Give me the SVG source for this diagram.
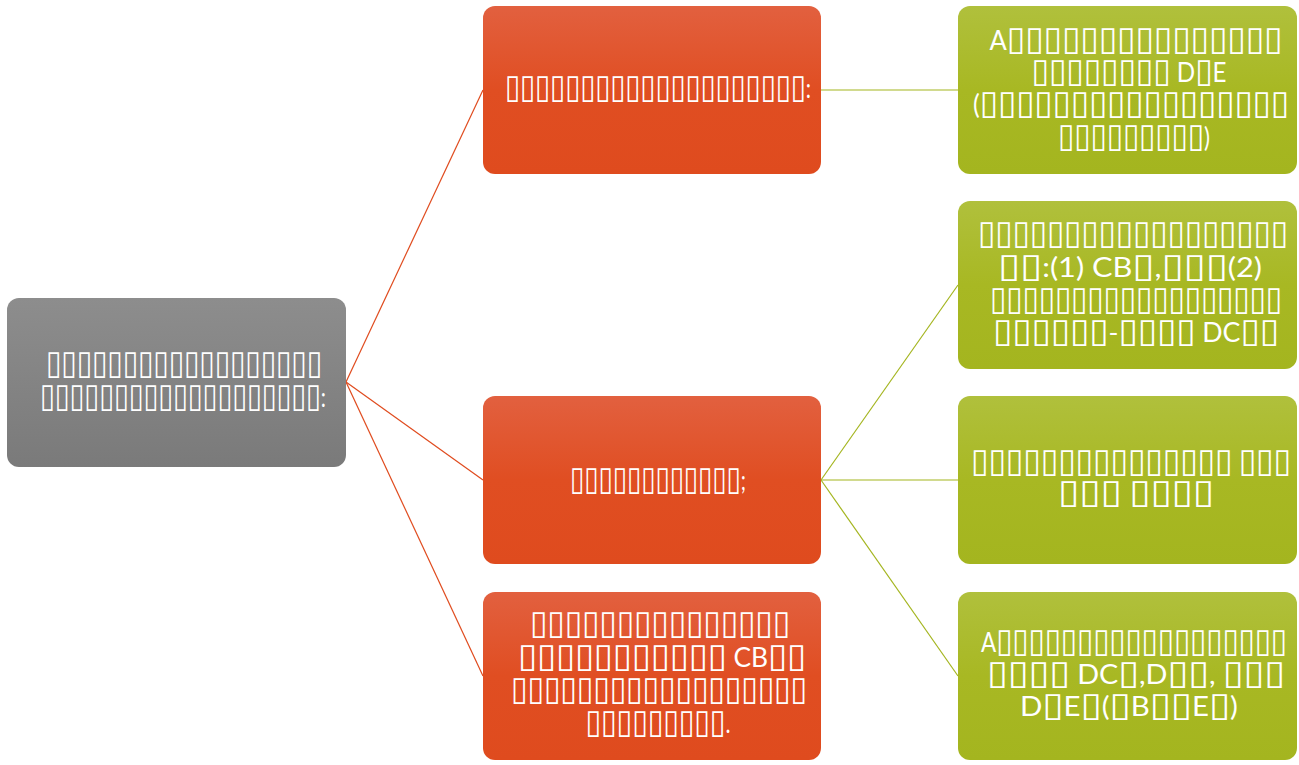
<svg xmlns="http://www.w3.org/2000/svg" width="1299" height="765" viewBox="0 0 1299 765">
<defs>
<linearGradient id="gGray" x1="0" y1="0" x2="0" y2="1"><stop offset="0" stop-color="#8d8d8d"/><stop offset="1" stop-color="#7a7a7a"/></linearGradient>
<linearGradient id="gOr" x1="0" y1="0" x2="0" y2="1"><stop offset="0" stop-color="#e2603f"/><stop offset="0.5" stop-color="#e04e22"/><stop offset="1" stop-color="#df4b1e"/></linearGradient>
<linearGradient id="gGr" x1="0" y1="0" x2="0" y2="1"><stop offset="0" stop-color="#b0c03c"/><stop offset="0.5" stop-color="#a8b823"/><stop offset="1" stop-color="#a4b51f"/></linearGradient>
<style>
.t{font-family:"Lato","DejaVu Sans",sans-serif;font-size:26px;fill:#ffffff;text-anchor:middle}
.b{font-family:"DejaVu Sans",sans-serif;font-size:34px}
.lo{stroke:#e04b1e;stroke-width:1.2;fill:none}
.lg{stroke:#a4b51f;stroke-width:1.2;fill:none}
</style>
</defs>
<rect width="1299" height="765" fill="#ffffff"/>
<g id="connectors">
<line class="lo" x1="346" y1="382" x2="483" y2="90"/>
<line class="lo" x1="346" y1="382" x2="483" y2="480"/>
<line class="lo" x1="346" y1="382" x2="483" y2="676"/>
<line class="lg" x1="821" y1="90" x2="958" y2="90"/>
<line class="lg" x1="821" y1="480" x2="958" y2="285"/>
<line class="lg" x1="821" y1="480" x2="958" y2="480"/>
<line class="lg" x1="821" y1="480" x2="958" y2="676"/>
</g>
<g id="root">
<rect x="7" y="298" width="339" height="169" rx="12" fill="url(#gGray)"/>
<text class="t" x="184" y="374" textLength="276" lengthAdjust="spacingAndGlyphs"><tspan class="b">▯▯▯▯▯▯▯▯▯▯▯▯▯▯▯▯▯▯</tspan></text>
<text class="t" x="183" y="407" textLength="286" lengthAdjust="spacingAndGlyphs"><tspan class="b">▯▯▯▯▯▯▯▯▯▯▯▯▯▯▯▯▯▯▯</tspan>:</text>
</g>
<g id="o1">
<rect x="483" y="6" width="338" height="168" rx="12" fill="url(#gOr)"/>
<text class="t" x="658" y="98" textLength="306" lengthAdjust="spacingAndGlyphs"><tspan class="b">▯▯▯▯▯▯▯▯▯▯▯▯▯▯▯▯▯▯▯▯</tspan>:</text>
</g>
<g id="o2">
<rect x="483" y="396" width="338" height="168" rx="12" fill="url(#gOr)"/>
<text class="t" x="658" y="490" textLength="176" lengthAdjust="spacingAndGlyphs"><tspan class="b">▯▯▯▯▯▯▯▯▯▯▯▯</tspan>;</text>
</g>
<g id="o3">
<rect x="483" y="592" width="338" height="168" rx="12" fill="url(#gOr)"/>
<text class="t" x="660" y="634" textLength="260" lengthAdjust="spacingAndGlyphs"><tspan class="b">▯▯▯▯▯▯▯▯▯▯▯▯▯▯▯</tspan></text>
<text class="t" x="662" y="667" textLength="288" lengthAdjust="spacingAndGlyphs"><tspan class="b">▯▯▯▯▯▯▯▯▯▯▯</tspan> CB<tspan class="b">▯▯</tspan></text>
<text class="t" x="659" y="700" textLength="296" lengthAdjust="spacingAndGlyphs"><tspan class="b">▯▯▯▯▯▯▯▯▯▯▯▯▯▯▯▯▯▯</tspan></text>
<text class="t" x="658" y="733" textLength="145" lengthAdjust="spacingAndGlyphs"><tspan class="b">▯▯▯▯▯▯▯▯▯</tspan>.</text>
</g>
<g id="g1">
<rect x="958" y="6" width="339" height="168" rx="12" fill="url(#gGr)"/>
<text class="t" x="1136" y="50" textLength="293" lengthAdjust="spacingAndGlyphs">A<tspan class="b">▯▯▯▯▯▯▯▯▯▯▯▯▯▯▯</tspan></text>
<text class="t" x="1129" y="82" textLength="195" lengthAdjust="spacingAndGlyphs"><tspan class="b">▯▯▯▯▯▯▯▯</tspan> D<tspan class="b">▯</tspan>E</text>
<text class="t" x="1131" y="114" textLength="316" lengthAdjust="spacingAndGlyphs">(<tspan class="b">▯▯▯▯▯▯▯▯▯▯▯▯▯▯▯▯▯</tspan></text>
<text class="t" x="1134" y="147" textLength="152" lengthAdjust="spacingAndGlyphs"><tspan class="b">▯▯▯▯▯▯▯▯▯</tspan>)</text>
</g>
<g id="g2">
<rect x="958" y="201" width="339" height="168" rx="12" fill="url(#gGr)"/>
<text class="t" x="1133" y="244" textLength="310" lengthAdjust="spacingAndGlyphs"><tspan class="b">▯▯▯▯▯▯▯▯▯▯▯▯▯▯▯▯▯▯</tspan></text>
<text class="t" x="1130" y="277" textLength="264" lengthAdjust="spacingAndGlyphs"><tspan class="b">▯▯</tspan>:(1) CB<tspan class="b">▯</tspan>,<tspan class="b">▯▯▯</tspan>(2)</text>
<text class="t" x="1136" y="310" textLength="292" lengthAdjust="spacingAndGlyphs"><tspan class="b">▯▯▯▯▯▯▯▯▯▯▯▯▯▯▯▯▯▯</tspan></text>
<text class="t" x="1136" y="342" textLength="286" lengthAdjust="spacingAndGlyphs"><tspan class="b">▯▯▯▯▯▯</tspan>-<tspan class="b">▯▯▯▯</tspan> DC<tspan class="b">▯▯</tspan></text>
</g>
<g id="g3">
<rect x="958" y="396" width="339" height="168" rx="12" fill="url(#gGr)"/>
<text class="t" x="1131" y="472" textLength="320" lengthAdjust="spacingAndGlyphs"><tspan class="b">▯▯▯▯▯▯▯▯▯▯▯▯▯▯▯</tspan> <tspan class="b">▯▯▯</tspan></text>
<text class="t" x="1136" y="503" textLength="156" lengthAdjust="spacingAndGlyphs"><tspan class="b">▯▯▯</tspan> <tspan class="b">▯▯▯▯</tspan></text>
</g>
<g id="g4">
<rect x="958" y="592" width="339" height="168" rx="12" fill="url(#gGr)"/>
<text class="t" x="1134" y="652" textLength="306" lengthAdjust="spacingAndGlyphs">A<tspan class="b">▯▯▯▯▯▯▯▯▯▯▯▯▯▯▯▯▯▯</tspan></text>
<text class="t" x="1136" y="684" textLength="298" lengthAdjust="spacingAndGlyphs"><tspan class="b">▯▯▯▯</tspan> DC<tspan class="b">▯</tspan>,D<tspan class="b">▯▯</tspan>, <tspan class="b">▯▯▯</tspan></text>
<text class="t" x="1129" y="716" textLength="218" lengthAdjust="spacingAndGlyphs">D<tspan class="b">▯</tspan>E<tspan class="b">▯</tspan>(<tspan class="b">▯</tspan>B<tspan class="b">▯▯</tspan>E<tspan class="b">▯</tspan>)</text>
</g>
</svg>
